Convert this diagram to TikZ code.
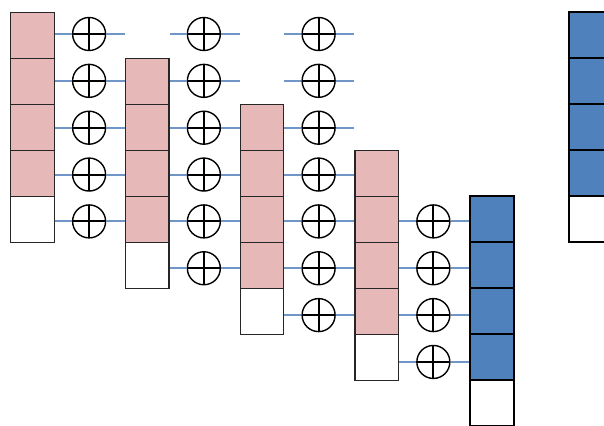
\documentclass[tikz,border=0pt]{standalone}
\usepackage{tikz}
\definecolor{cellpink}{RGB}{230,185,184}
\definecolor{cellblue}{RGB}{79,129,189}
\definecolor{wireblue}{RGB}{112,150,200}
\tikzset{
  cell/.style={draw=black!85, line width=1.4pt, minimum width=43.5pt, minimum height=46pt, inner sep=0pt, anchor=north west},
  pinkcell/.style={cell, fill=cellpink},
  emptycell/.style={cell, fill=white},
  bluecell/.style={cell, draw=black, line width=2pt, fill=cellblue},
  emptyblue/.style={cell, draw=black, line width=2pt, fill=white},
  xorgate/.style={circle, draw, line width=1.4pt, fill=white, minimum size=33pt, inner sep=0pt,
    path picture={\draw[line width=2pt] (path picture bounding box.north)--(path picture bounding box.south)
      (path picture bounding box.west)--(path picture bounding box.east);}},
  wire/.style={wireblue, line width=2pt}
}
\begin{document}
\begin{tikzpicture}[x=1pt,y=-1pt]
\useasboundingbox (0,0) rectangle (604,425);
% pink columns, shifted down one cell each time
\foreach \c in {0,...,3} {
  \foreach \j/\s in {0/pinkcell,1/pinkcell,2/pinkcell,3/pinkcell,4/emptycell}
    {\node[\s] (c\c-\j) at (10+114.75*\c,12+46*\c+46*\j) {};}
}
% blue columns
\foreach \c/\cx/\cy in {4/469/195,5/568/11} {
  \foreach \j/\s in {0/bluecell,1/bluecell,2/bluecell,3/bluecell,4/emptyblue}
    {\node[\s] (c\c-\j) at (\cx,\cy+46*\j) {};}
}
% xor gates and wires in each gap
\foreach \g/\rows in {0/{0,...,4},1/{0,...,5},2/{0,...,6},3/{4,...,7}} {
  \pgfmathtruncatemacro\h{\g+1}
  \foreach \r in \rows {
    \node[xorgate] (x\g-\r) at (89.1+114.75*\g,34+46.85*\r) {};
    \draw[wire] (x\g-\r -| c\g-0.east)--(x\g-\r)--(x\g-\r -| c\h-0.west);
  }
}
\end{tikzpicture}
\end{document}
